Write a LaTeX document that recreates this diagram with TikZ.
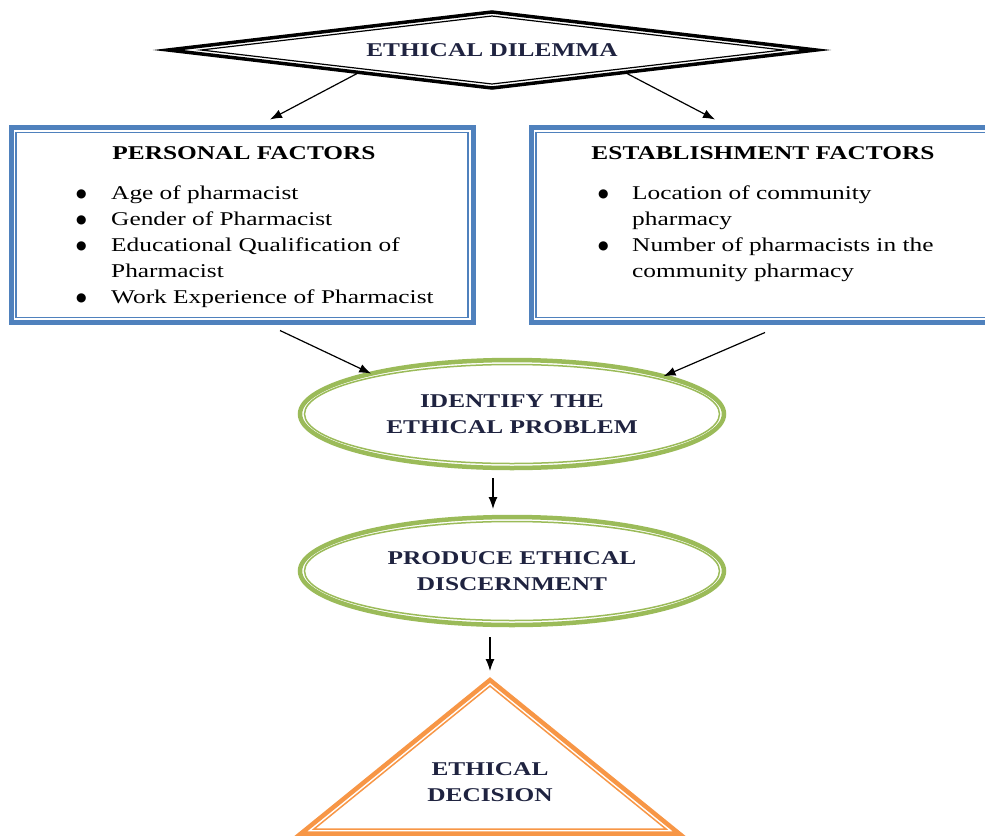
\documentclass[tikz,border=0pt]{standalone}
\usepackage{fontspec}
\setmainfont{Liberation Serif}[FakeStretch=1.3]
\newfontfamily\dotfont{DejaVu Sans}
\usetikzlibrary{shapes.geometric,arrows.meta,calc}
\definecolor{boxblue}{HTML}{4F81BD}
\definecolor{ovalgreen}{HTML}{9BBB59}
\definecolor{triorange}{HTML}{F79646}
\definecolor{labelnavy}{HTML}{1F2340}
\newcommand{\diagfont}{\fontsize{19.5}{26}\selectfont}
\newcommand{\listdot}{{\dotfont\fontsize{12}{26}\selectfont\raisebox{2.5pt}{●}}}
\tikzset{
  factorbox/.style={draw=boxblue, line width=5pt, outer sep=0pt,
    minimum width=462pt, minimum height=195pt, inner sep=0pt},
  stageoval/.style={ellipse, draw=ovalgreen, line width=4.5pt, outer sep=0pt,
    minimum width=424pt, minimum height=108pt, inner sep=0pt, align=center,
    font=\diagfont\bfseries, text=labelnavy},
  thinline/.style={draw=#1, line width=1.5pt},
  heading/.style={font=\diagfont\bfseries, anchor=base},
  factorlist/.style={font=\diagfont, anchor=north west, inner sep=0pt},
  flow/.style={-{Latex[length=12pt,width=9pt]}, line width=1.2pt},
}
\begin{document}
\begin{tikzpicture}[x=1pt, y=-1pt]
  \useasboundingbox (0,0) rectangle (985,838);
  % Dilemma at the top: thick outer line, thin inner line
  \node[diamond, draw=black, line width=3.5pt, outer sep=0pt, aspect=8.5,
        minimum width=648pt, minimum height=76pt, inner sep=0pt,
        font=\diagfont\bfseries, text=labelnavy] (dilemma) at (492,50) {ETHICAL DILEMMA};
  \draw[thinline=black, line width=1.2pt] ($(dilemma.center)+(-291,0)$) -- ($(dilemma.center)+(0,-34)$)
    -- ($(dilemma.center)+(291,0)$) -- ($(dilemma.center)+(0,34)$) -- cycle;
  % Factor boxes
  \node[factorbox] (personal) at (242,225) {};
  \node[heading] (personaltitle) at ($(personal.north)+(2,32)$) {PERSONAL FACTORS};
  \node[factorlist] (personallist) at ($(personal.north west)+(65,54)$) {%
    \begin{tabular}[t]{@{}p{35pt}@{}l@{}}
      \listdot & Age of pharmacist\\
      \listdot & Gender of Pharmacist\\
      \listdot & Educational Qualification of\\
               & Pharmacist\\
      \listdot & Work Experience of Pharmacist
    \end{tabular}};
  \node[factorbox] (establish) at (762,225) {};
  \node[heading] (establishtitle) at ($(establish.north)+(1,32)$) {ESTABLISHMENT FACTORS};
  \node[factorlist] (establishlist) at ($(establish.north west)+(67,54)$) {%
    \begin{tabular}[t]{@{}p{34pt}@{}l@{}}
      \listdot & Location of community\\
               & pharmacy\\
      \listdot & Number of pharmacists in the\\
               & community pharmacy
    \end{tabular}};
  \foreach \fbox in {personal,establish}
    \draw[thinline=boxblue] ([shift={(5,5)}]\fbox.north west) rectangle ([shift={(-5,-5)}]\fbox.south east);
  % Decision stages
  \node[stageoval] (identify) at (512,414) {IDENTIFY THE\\ETHICAL PROBLEM};
  \node[stageoval] (discern) at (512,571) {PRODUCE ETHICAL\\DISCERNMENT};
  \foreach \stage in {identify,discern}
    \draw[thinline=ovalgreen] (\stage.center) ellipse [x radius=207.5, y radius=49.5];
  \coordinate (apex) at (490,680);
  \draw[draw=triorange, line width=4.5pt] (apex) -- (301,833.5) -- (679,833.5) -- cycle;
  \draw[thinline=triorange] (490,686) -- (314,829) -- (666,829) -- cycle;
  \node[align=center, font=\diagfont\bfseries, text=labelnavy] (decision) at (490,782)
    {ETHICAL\\DECISION};
  % Connectors
  \draw[flow] ($(dilemma.south)!0.41!(dilemma.west)$) -- ([xshift=28pt,yshift=8pt]personal.north);
  \draw[flow] ($(dilemma.south)!0.41!(dilemma.east)$) -- ([xshift=-47pt,yshift=8pt]establish.north);
  \draw[flow] ([xshift=38pt,yshift=-8pt]personal.south) -- (identify.164);
  \draw[flow] ([xshift=3pt,yshift=-10pt]establish.south) -- (identify.14);
  \draw[flow] ([xshift=-19pt,yshift=-10pt]identify.south) -- ([xshift=-19pt,yshift=8pt]discern.north);
  \draw[flow] ([xshift=-22pt,yshift=-12pt]discern.south) -- ([yshift=9pt]apex);
\end{tikzpicture}
\end{document}
